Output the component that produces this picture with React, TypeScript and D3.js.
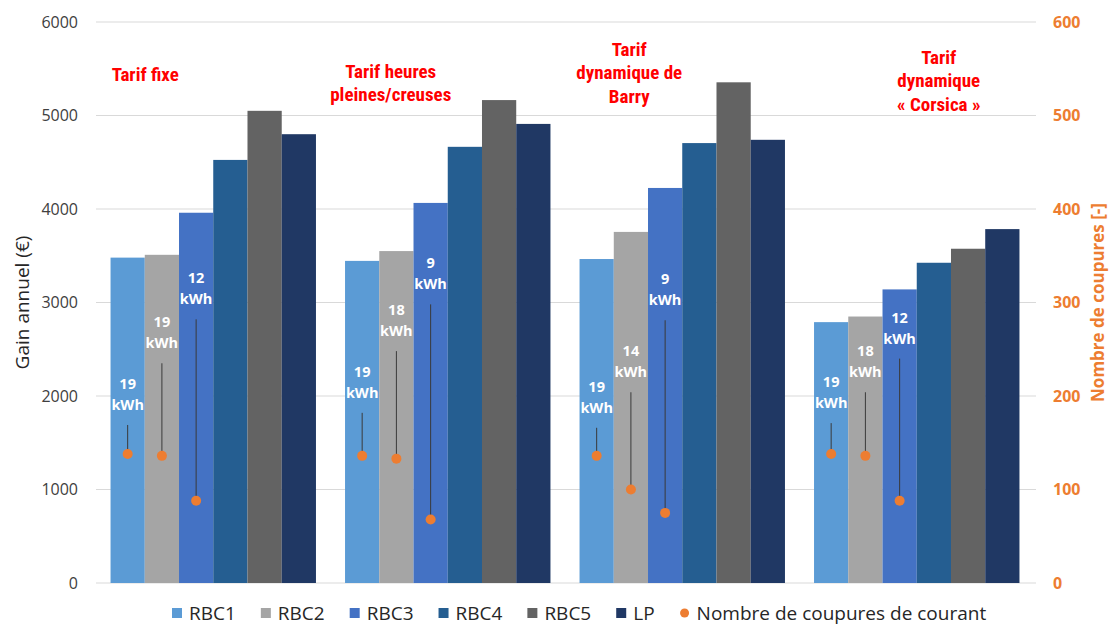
import { useEffect, useRef } from "react";
import * as d3 from "d3";

// tariff scenarios (x groups) and the battery controllers (bars)
const groups = ["Tarif fixe", "Tarif heures pleines/creuses", "Tarif dynamique de Barry", "Tarif dynamique « Corsica »"];
const groupTitleLines = [
  ["Tarif fixe"],
  ["Tarif heures", "pleines/creuses"],
  ["Tarif", "dynamique de", "Barry"],
  ["Tarif", "dynamique", "« Corsica »"],
];
const series = ["RBC1", "RBC2", "RBC3", "RBC4", "RBC5", "LP"];
const colors = ["#5B9BD5", "#A5A5A5", "#4472C4", "#255E91", "#636363", "#203864"];

// Gain annuel (€)
const gainRBC1 = [3480, 3445, 3465, 2790];
const gainRBC2 = [3510, 3550, 3755, 2850];
const gainRBC3 = [3960, 4065, 4225, 3140];
const gainRBC4 = [4525, 4665, 4705, 3425];
const gainRBC5 = [5050, 5165, 5355, 3575];
const gainLP = [4800, 4910, 4740, 3785];

// Nombre de coupures de courant (only RBC1..RBC3)
const coupuresRBC1 = [138, 136, 136, 138];
const coupuresRBC2 = [136, 133, 100, 136];
const coupuresRBC3 = [88, 68, 75, 88];
// unserved energy labels (kWh)
const kwhRBC1 = [19, 19, 19, 19];
const kwhRBC2 = [19, 18, 14, 18];
const kwhRBC3 = [12, 9, 9, 12];

const leftTicks = [0, 1000, 2000, 3000, 4000, 5000, 6000];
const rightTicks = [0, 100, 200, 300, 400, 500, 600];

export default function App() {
  const ref = useRef<SVGSVGElement | null>(null);

  useEffect(() => {
    if (!ref.current) return;
    const svg = d3.select(ref.current);
    svg.selectAll("*").remove();

    const width = 1115, height = 628;
    const margin = { top: 22, right: 81, bottom: 45, left: 96 };
    const x1 = width - margin.right;
    const y0 = height - margin.bottom;

    const gains = [gainRBC1, gainRBC2, gainRBC3, gainRBC4, gainRBC5, gainLP];
    const coupures = [coupuresRBC1, coupuresRBC2, coupuresRBC3];
    const kwh = [kwhRBC1, kwhRBC2, kwhRBC3];
    // where each label's leader line starts, in "coupures" units
    const labelLevels = [[169, 182, 166, 171], [235, 248, 204, 204], [282, 298, 281, 240]];

    const x0 = d3.scaleBand<string>().domain(groups).range([margin.left, x1]).paddingInner(0.124).paddingOuter(0.062);
    const xs = d3.scaleBand<string>().domain(series).range([0, x0.bandwidth()]);
    const y = d3.scaleLinear().domain([0, 6000]).range([y0, margin.top]);
    const yR = d3.scaleLinear().domain([0, 600]).range([y0, margin.top]);

    const axisFont = "'Open Sans', 'Segoe UI', sans-serif";
    const narrow = "'Liberation Sans Narrow', 'Roboto Condensed', 'Liberation Sans', Arial, sans-serif";

    // grid
    svg.append("g").selectAll("line").data(leftTicks).join("line")
      .attr("x1", margin.left).attr("x2", x1 + 2)
      .attr("y1", d => y(d)).attr("y2", d => y(d))
      .attr("stroke", "#d9d9d9").attr("stroke-width", 1.2);

    // left axis labels
    svg.append("g").selectAll("text").data(leftTicks).join("text")
      .attr("x", 78).attr("y", d => y(d)).attr("dy", "0.35em")
      .attr("text-anchor", "end").attr("font-family", axisFont).attr("font-size", 16).attr("fill", "#404040")
      .text(d => d);
    svg.append("text")
      .attr("transform", `translate(22,${(y0 + margin.top) / 2}) rotate(-90)`)
      .attr("text-anchor", "middle").attr("dy", "0.35em").attr("font-family", axisFont).attr("font-size", 19).attr("fill", "#262626")
      .text("Gain annuel (€)");

    // right axis labels
    svg.append("g").selectAll("text").data(rightTicks).join("text")
      .attr("x", 1053).attr("y", d => yR(d)).attr("dy", "0.35em")
      .attr("font-family", axisFont).attr("font-weight", 700).attr("font-size", 16).attr("fill", "#ED7D31")
      .text(d => d);
    svg.append("text")
      .attr("transform", `translate(1098,${(y0 + margin.top) / 2}) rotate(-90)`)
      .attr("text-anchor", "middle").attr("dy", "0.35em").attr("font-family", axisFont).attr("font-weight", 700)
      .attr("font-size", 17).attr("fill", "#ED7D31")
      .text("Nombre de coupures [-]");

    // bars
    const gBars = svg.append("g");
    groups.forEach((g, gi) => {
      series.forEach((s, si) => {
        gBars.append("rect")
          .attr("x", x0(g)! + xs(s)!).attr("width", xs.bandwidth())
          .attr("y", y(gains[si][gi])).attr("height", y0 - y(gains[si][gi]))
          .attr("fill", colors[si]);
      });
    });

    // outage markers, leader lines and kWh labels
    const gPts = svg.append("g");
    groups.forEach((g, gi) => {
      coupures.forEach((arr, si) => {
        const cx = x0(g)! + xs(series[si])! + xs.bandwidth() / 2;
        const cy = yR(arr[gi]);
        const ly = yR(labelLevels[si][gi]);
        gPts.append("line").attr("x1", cx).attr("x2", cx).attr("y1", ly).attr("y2", cy)
          .attr("stroke", "#3a3a3a").attr("stroke-width", 1);
        gPts.append("circle").attr("cx", cx).attr("cy", cy).attr("r", 5).attr("fill", "#ED7D31");
        const t = gPts.append("text").attr("text-anchor", "middle").attr("font-family", axisFont)
          .attr("font-weight", 700).attr("font-size", 14.5).attr("fill", "#ffffff");
        t.append("tspan").attr("x", cx).attr("y", ly - 36).text(kwh[si][gi]);
        t.append("tspan").attr("x", cx).attr("y", ly - 15).text("kWh");
      });
    });

    // group titles
    const titleDx = [-68, -57, -53, 22];
    const titleTop = [74, 71, 49, 57];
    groups.forEach((g, gi) => {
      const cx = x0(g)! + x0.bandwidth() / 2 + titleDx[gi];
      const t = svg.append("text").attr("text-anchor", "middle").attr("font-family", narrow)
        .attr("font-weight", 700).attr("font-size", 19).attr("fill", "#FF0000");
      groupTitleLines[gi].forEach((line, li) => {
        t.append("tspan").attr("x", cx).attr("y", titleTop[gi] + li * 23.5).attr("dy", "0.35em").text(line);
      });
    });

    // legend
    const legend = svg.append("g");
    const ly = 613;
    let lx = 172;
    const items = [...series.map((s, i) => ({ label: s, color: colors[i], dot: false })),
      { label: "Nombre de coupures de courant", color: "#ED7D31", dot: true }];
    items.forEach(it => {
      if (it.dot) legend.append("circle").attr("cx", lx + 5).attr("cy", ly).attr("r", 4.5).attr("fill", it.color);
      else legend.append("rect").attr("x", lx).attr("y", ly - 5).attr("width", 10).attr("height", 10).attr("fill", it.color);
      const txt = legend.append("text").attr("x", lx + 17).attr("y", ly).attr("dy", "0.35em")
        .attr("font-family", axisFont).attr("font-size", 19).attr("fill", "#262626").text(it.label);
      const w = (txt.node() as SVGTextElement).getComputedTextLength();
      lx += 17 + w + 25;
    });
  }, []);

  return (
    <svg ref={ref} width={1115} height={628}
      style={{ position: "absolute", left: 0, top: 0, background: "#fff" }}
      role="img" aria-label="Gain annuel et nombre de coupures par tarif" />
  );
}
